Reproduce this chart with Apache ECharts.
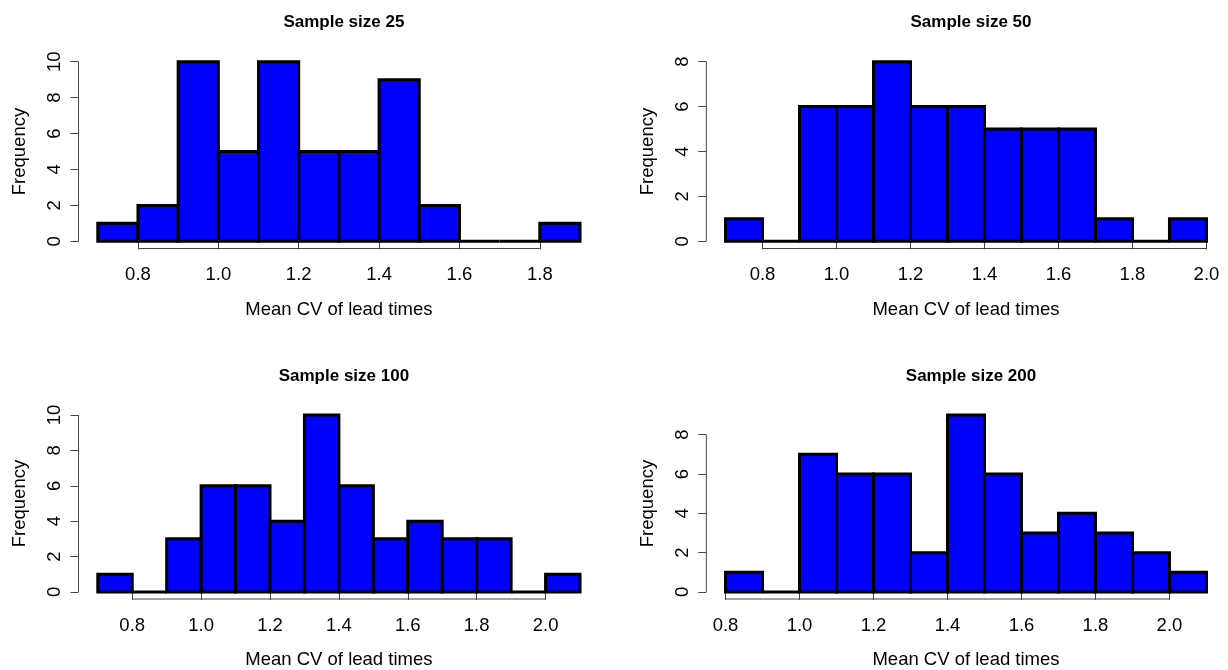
<!DOCTYPE html>
<html>
<head>
<meta charset="utf-8">
<script src="https://cdn.jsdelivr.net/npm/echarts@6/dist/echarts.min.js"></script>
<style>
html,body{margin:0;padding:0;background:#fff;}
#chart{width:1228px;height:670px;}
</style>
</head>
<body>
<div id="chart"></div>
<script>
// ---- Data ----
const titles = ['Sample size 25', 'Sample size 50', 'Sample size 100', 'Sample size 200'];
const xAxisTitle = 'Mean CV of lead times';
const yAxisTitle = 'Frequency';

const edges25 = [0.7, 0.8, 0.9, 1.0, 1.1, 1.2, 1.3, 1.4, 1.5, 1.6, 1.7, 1.8, 1.9];
const counts25 = [1, 2, 10, 5, 10, 5, 5, 9, 2, 0, 0, 1];
const edges50 = [0.7, 0.8, 0.9, 1.0, 1.1, 1.2, 1.3, 1.4, 1.5, 1.6, 1.7, 1.8, 1.9, 2.0];
const counts50 = [1, 0, 6, 6, 8, 6, 6, 5, 5, 5, 1, 0, 1];
const edges100 = [0.7, 0.8, 0.9, 1.0, 1.1, 1.2, 1.3, 1.4, 1.5, 1.6, 1.7, 1.8, 1.9, 2.0, 2.1];
const counts100 = [1, 0, 3, 6, 6, 4, 10, 6, 3, 4, 3, 3, 0, 1];
const edges200 = [0.8, 0.9, 1.0, 1.1, 1.2, 1.3, 1.4, 1.5, 1.6, 1.7, 1.8, 1.9, 2.0, 2.1];
const counts200 = [1, 0, 7, 6, 6, 2, 9, 6, 3, 4, 3, 2, 1];

const xTicks25 = [0.8, 1.0, 1.2, 1.4, 1.6, 1.8];
const xTicks50 = [0.8, 1.0, 1.2, 1.4, 1.6, 1.8, 2.0];
const xTicks100 = [0.8, 1.0, 1.2, 1.4, 1.6, 1.8, 2.0];
const xTicks200 = [0.8, 1.0, 1.2, 1.4, 1.6, 1.8, 2.0];
const yTicks25 = [0, 2, 4, 6, 8, 10];
const yTicks50 = [0, 2, 4, 6, 8];
const yTicks100 = [0, 2, 4, 6, 8, 10];
const yTicks200 = [0, 2, 4, 6, 8];

// ---- Layout (pixels) ----
const grids = [
  {left: 78.5, top: 54.5, width: 520.8, height: 194},
  {left: 706.3, top: 54.5, width: 519.4, height: 194},
  {left: 78.5, top: 408, width: 520.8, height: 193.5},
  {left: 706.3, top: 408, width: 519.4, height: 193.5}
];
const titleTops = [9, 9, 362.5, 362.5];
const xNameGaps = [52, 52, 51, 51];

const panels = [
  {edges: edges25, counts: counts25, xt: xTicks25, yt: yTicks25},
  {edges: edges50, counts: counts50, xt: xTicks50, yt: yTicks50},
  {edges: edges100, counts: counts100, xt: xTicks100, yt: yTicks100},
  {edges: edges200, counts: counts200, xt: xTicks200, yt: yTicks200}
];

const FONT = '"Liberation Sans", Arial, sans-serif';
const AX = '#444';

const option = {
  animation: false,
  backgroundColor: '#fff',
  title: [],
  grid: [],
  xAxis: [],
  yAxis: [],
  series: []
};

panels.forEach((p, i) => {
  const g = grids[i];
  const x0 = p.edges[0], x1 = p.edges[p.edges.length - 1];
  const xr = x1 - x0;
  const xmin = x0 - 0.04 * xr, xmax = x1 + 0.04 * xr;
  const cmax = Math.max.apply(null, p.counts);
  const ymin = -0.04 * cmax, ymax = 1.04 * cmax;

  option.grid.push({left: g.left, top: g.top, width: g.width, height: g.height, containLabel: false});
  option.title.push({
    text: titles[i],
    left: g.left + g.width / 2,
    top: titleTops[i],
    textAlign: 'center',
    textStyle: {fontFamily: FONT, fontSize: 17, fontWeight: 'bold', color: '#000'}
  });
  option.xAxis.push({
    type: 'value', gridIndex: i, min: xmin, max: xmax,
    axisLine: {show: false},
    splitLine: {show: false},
    axisTick: {show: true, customValues: p.xt, length: 8, lineStyle: {color: AX, width: 1}},
    axisLabel: {customValues: p.xt, margin: 17, fontFamily: FONT, fontSize: 18.5, color: '#000',
      formatter: v => Number(v).toFixed(1)},
    name: xAxisTitle, nameLocation: 'middle', nameGap: xNameGaps[i],
    nameTextStyle: {fontFamily: FONT, fontSize: 18.5, color: '#000'}
  });
  option.yAxis.push({
    type: 'value', gridIndex: i, min: ymin, max: ymax,
    axisLine: {show: false},
    splitLine: {show: false},
    axisTick: {show: true, customValues: p.yt, length: 8, lineStyle: {color: AX, width: 1}},
    axisLabel: {customValues: p.yt, rotate: 90, margin: 14, fontFamily: FONT, fontSize: 18.5, color: '#000'},
    name: yAxisTitle, nameLocation: 'middle', nameGap: 49,
    nameTextStyle: {fontFamily: FONT, fontSize: 18.5, color: '#000'}
  });

  const data = p.counts.map((c, k) => [p.edges[k], p.edges[k + 1], c]);
  option.series.push({
    type: 'custom', xAxisIndex: i, yAxisIndex: i, clip: false,
    data: data,
    encode: {x: [0, 1], y: 2},
    renderItem: function (params, api) {
      const a = api.coord([api.value(0), api.value(2)]);
      const b = api.coord([api.value(1), 0]);
      return {
        type: 'rect',
        shape: {x: a[0], y: a[1], width: b[0] - a[0], height: b[1] - a[1]},
        style: {fill: '#0000ff', stroke: '#000', lineWidth: 3}
      };
    }
  });
  // R-style axis lines spanning first to last tick
  option.series.push({
    type: 'line', xAxisIndex: i, yAxisIndex: i, clip: false, silent: true,
    symbol: 'none', lineStyle: {color: AX, width: 1},
    data: [[p.xt[0], ymin], [p.xt[p.xt.length - 1], ymin]]
  });
  option.series.push({
    type: 'line', xAxisIndex: i, yAxisIndex: i, clip: false, silent: true,
    symbol: 'none', lineStyle: {color: AX, width: 1},
    data: [[xmin, p.yt[0]], [xmin, p.yt[p.yt.length - 1]]]
  });
});

const chart = echarts.init(document.getElementById('chart'), null, {renderer: 'canvas'});
chart.setOption(option);
</script>
</body>
</html>
